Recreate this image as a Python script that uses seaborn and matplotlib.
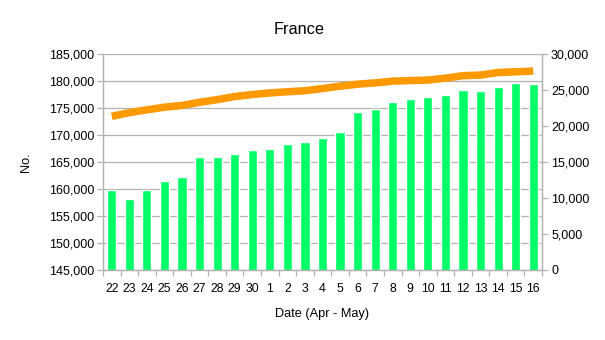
import numpy as np
import pandas as pd
import matplotlib
matplotlib.use("Agg")
import matplotlib.pyplot as plt
import seaborn as sns

sns.set_theme(style="white")
plt.rcParams["font.family"] = ["Liberation Sans", "DejaVu Sans"]

# Daily figures, 22 April - 16 May
days = ["22", "23", "24", "25", "26", "27", "28", "29", "30", "1", "2", "3", "4",
        "5", "6", "7", "8", "9", "10", "11", "12", "13", "14", "15", "16"]
cases = [159870, 158200, 159870, 161480, 162160, 165860, 165930, 166480, 167220,
         167400, 168400, 168700, 169500, 170600, 174260, 174800, 176100, 176700,
         177040, 177500, 178300, 178150, 178950, 179570, 179500]
deaths = [21340, 21856, 22245, 22614, 22856, 23293, 23660, 24087, 24376, 24594,
          24760, 24895, 25201, 25531, 25809, 25987, 26230, 26310, 26380, 26643,
          26991, 27074, 27425, 27529, 27625]

df = pd.DataFrame({"day": days, "cases": cases, "deaths": deaths})
df["pos"] = np.arange(len(df))

grid_c = "#b3b3b3"
fig = plt.figure(figsize=(6.05, 3.4), dpi=100)
ax = fig.add_axes([103 / 605, 70 / 340, 439 / 605, 216 / 340])

sns.barplot(data=df, x="day", y="cases", color="#00ff66", saturation=1,
            width=0.52, ax=ax, zorder=2)
ax.set_ylim(145000, 185000)
ax.set_yticks(np.arange(145000, 185001, 5000))
ax.set_yticklabels([f"{v:,}" for v in range(145000, 185001, 5000)])
ax.yaxis.grid(True, color=grid_c, linewidth=0.9)
ax.set_axisbelow(True)
ax.set_xlim(-0.5, len(df) - 0.5)

ax2 = ax.twinx()
sns.lineplot(data=df, x="pos", y="deaths", color="#ff9900", linewidth=5.4,
             solid_capstyle="butt", ax=ax2, zorder=3)
ax2.set_ylim(0, 30000)
ax2.set_yticks(np.arange(0, 30001, 5000))
ax2.set_yticklabels([f"{v:,}" for v in range(0, 30001, 5000)])
ax2.set_xlim(-0.5, len(df) - 0.5)
ax2.set_ylabel("")

for a in (ax, ax2):
    for s in a.spines.values():
        s.set_color(grid_c)
        s.set_linewidth(0.9)
    a.spines["top"].set_visible(False)

ax.tick_params(axis="y", which="major", length=4, color=grid_c, width=0.9,
               labelsize=9, pad=2.5, left=True, labelcolor="black")
ax2.tick_params(axis="y", which="major", length=4, color=grid_c, width=0.9,
                labelsize=9, pad=2.5, right=True, labelcolor="black")
ax.tick_params(axis="x", which="major", length=0, labelsize=8.8, pad=9.5,
               labelcolor="black")
ax.set_xticks(np.arange(-0.5, len(df), 1.0), minor=True)
ax.tick_params(axis="x", which="minor", length=4, color=grid_c, width=0.9,
               bottom=True)
ax2.tick_params(axis="x", which="both", bottom=False, top=False)

ax.set_xlabel("Date (Apr - May)", fontsize=9.2, labelpad=9, color="black")
ax.set_ylabel("No.", fontsize=9.2, labelpad=12, color="black")
fig.text(299 / 605, 1 - 29 / 340, "France", ha="center", va="center",
         fontsize=11.7, color="black")

fig.savefig("out.png", dpi=100)
